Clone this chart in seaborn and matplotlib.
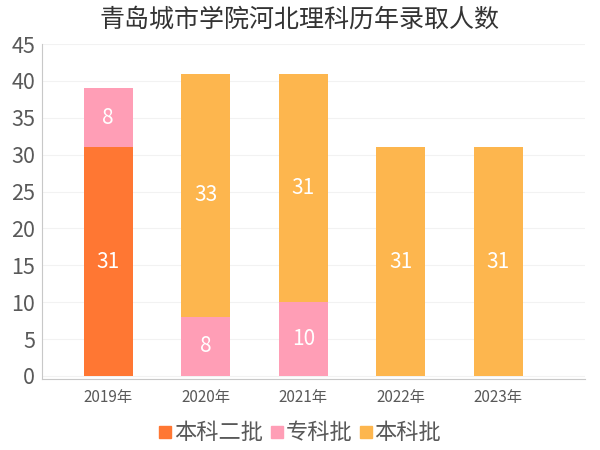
import numpy as np
import pandas as pd
import matplotlib
matplotlib.use("Agg")
import matplotlib.pyplot as plt
from matplotlib.lines import Line2D
import seaborn as sns

# ------------------------
# Data
# ------------------------
years = ["2019年", "2020年", "2021年", "2022年", "2023年"]
benke2 = [31, 0, 0, 0, 0]     # 本科二批
zhuanke = [8, 8, 10, 0, 0]    # 专科批
benke = [0, 33, 31, 31, 31]   # 本科批
series_names = ["本科二批", "专科批", "本科批"]
colors = ["#FF7733", "#FF9EB6", "#FDB64E"]

title = "青岛城市学院河北理科历年录取人数"

# ------------------------
# Style
# ------------------------
sns.set_style("white")
plt.rcParams["font.family"] = ["Noto Sans CJK SC", "DejaVu Sans"]

fig = plt.figure(figsize=(6, 4.5), dpi=100)
ax = fig.add_axes([0.07, 0.158, 0.905, 0.744])

df = pd.DataFrame({"year": years, "本科二批": benke2, "专科批": zhuanke, "本科批": benke})

bottom = np.zeros(len(years))
for name, color in zip(series_names, colors):
    vals = df[name].values
    sns.barplot(x=df["year"], y=vals, bottom=bottom, color=color,
                width=0.5, errorbar=None, saturation=1, linewidth=0, ax=ax)
    cont = ax.containers[-1]
    labels = [str(v) if v > 0 else "" for v in vals]
    ax.bar_label(cont, labels=labels, label_type="center",
                 color="white", fontsize=15)
    bottom = bottom + vals

ax.set_xlim(-0.68, 4.89)
ax.set_ylim(-0.4, 45)
ax.set_yticks(range(0, 46, 5))
ax.set_xlabel("")
ax.set_ylabel("")
ax.grid(axis="y", color="#f2f2f2", linewidth=0.8)
ax.set_axisbelow(True)

for s in ["top", "right"]:
    ax.spines[s].set_visible(False)
for s in ["left", "bottom"]:
    ax.spines[s].set_color("#c8c8c8")
    ax.spines[s].set_linewidth(0.8)

ax.tick_params(axis="y", labelsize=15.5, colors="#595959", length=3,
               color="#c8c8c8", pad=2)
ax.tick_params(axis="x", labelsize=11, colors="#595959", length=3,
               color="#c8c8c8", pad=4)

fig.suptitle(title, x=0.5, y=0.985, fontsize=18, color="#333333")

handles = [Line2D([], [], marker="s", linestyle="", markersize=8,
                  markerfacecolor=c, markeredgecolor=c) for c in colors]
fig.legend(handles, series_names, loc="lower center", bbox_to_anchor=(0.5, -0.032),
           ncol=3, frameon=False, fontsize=16, handlelength=0.6,
           handletextpad=0.1, columnspacing=0.3, labelcolor="#595959")

fig.savefig("out.png", dpi=100)
